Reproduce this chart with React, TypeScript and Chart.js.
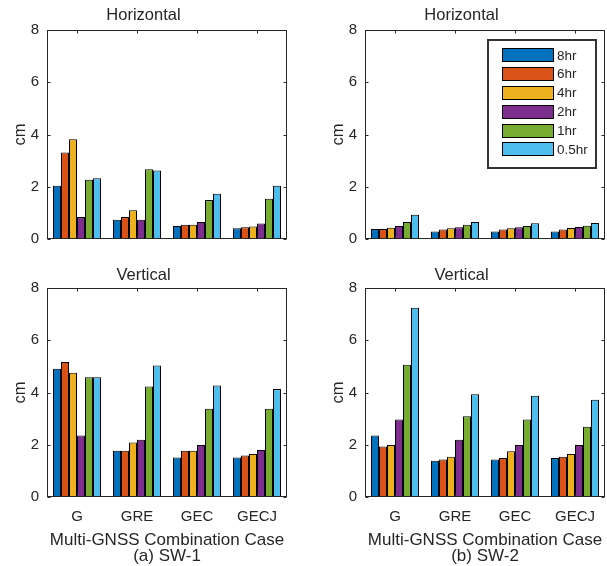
import React, { useEffect, useRef } from "react";
import { Chart, registerables } from "chart.js";

Chart.register(...registerables);

const categories = ["G", "GRE", "GEC", "GECJ"];
const seriesLabels = ["8hr", "6hr", "4hr", "2hr", "1hr", "0.5hr"];
const seriesColors = ["#0072BD", "#D95319", "#EDB120", "#7E2F8E", "#77AC30", "#4DBEEE"];
const yTicks = [0, 2, 4, 6, 8];

// rows = series (8hr, 6hr, 4hr, 2hr, 1hr, 0.5hr), columns = categories
const sw1Horizontal = [
  [2.04, 0.74, 0.5, 0.41],
  [3.31, 0.84, 0.55, 0.45],
  [3.82, 1.1, 0.55, 0.48],
  [0.84, 0.74, 0.65, 0.59],
  [2.27, 2.67, 1.49, 1.54],
  [2.33, 2.62, 1.73, 2.04],
];
const sw2Horizontal = [
  [0.38, 0.29, 0.29, 0.29],
  [0.38, 0.36, 0.36, 0.36],
  [0.43, 0.41, 0.41, 0.42],
  [0.5, 0.45, 0.45, 0.46],
  [0.65, 0.55, 0.5, 0.51],
  [0.93, 0.65, 0.6, 0.61],
];
const sw1Vertical = [
  [4.91, 1.77, 1.51, 1.51],
  [5.17, 1.77, 1.77, 1.59],
  [4.76, 2.09, 1.77, 1.65],
  [2.35, 2.19, 1.99, 1.8],
  [4.58, 4.23, 3.38, 3.38],
  [4.58, 5.03, 4.27, 4.13],
];
const sw2Vertical = [
  [2.35, 1.39, 1.44, 1.49],
  [1.93, 1.44, 1.49, 1.54],
  [1.99, 1.54, 1.75, 1.65],
  [2.97, 2.19, 1.99, 1.99],
  [5.06, 3.09, 2.97, 2.69],
  [7.24, 3.93, 3.88, 3.72],
];

const TEXT = "#262626";
const FONT = "'Liberation Sans', Arial, Helvetica, sans-serif";

const framePlugin = {
  id: "frame",
  afterDraw(chart: any) {
    const { ctx, chartArea: a, scales } = chart;
    ctx.save();
    ctx.strokeStyle = TEXT;
    ctx.lineWidth = 1;
    const l = Math.round(a.left) + 0.5;
    const r = Math.round(a.right) - 0.5;
    const t = Math.round(a.top) + 0.5;
    const b = Math.round(a.bottom) - 0.5;
    ctx.strokeRect(l, t, r - l, b - t);
    const L = 3;
    ctx.beginPath();
    scales.y.ticks.forEach((_: any, i: number) => {
      const y = Math.round(scales.y.getPixelForTick(i)) + 0.5;
      ctx.moveTo(l, y);
      ctx.lineTo(l + L, y);
      ctx.moveTo(r, y);
      ctx.lineTo(r - L, y);
    });
    scales.x.ticks.forEach((_: any, i: number) => {
      const x = Math.round(scales.x.getPixelForTick(i)) + 0.5;
      ctx.moveTo(x, b);
      ctx.lineTo(x, b - L);
      ctx.moveTo(x, t);
      ctx.lineTo(x, t + L);
    });
    ctx.stroke();
    ctx.restore();
  },
};

const boxLegendPlugin = {
  id: "boxLegend",
  afterDraw(chart: any, _args: any, opts: any) {
    if (!opts || !opts.show) return;
    const { ctx, chartArea: a } = chart;
    const x0 = Math.round(a.right - 117);
    const y0 = Math.round(a.top + 10);
    const w = 108;
    const h = 128;
    ctx.save();
    ctx.fillStyle = "#ffffff";
    ctx.fillRect(x0, y0, w, h);
    ctx.strokeStyle = "#333333";
    ctx.lineWidth = 2;
    ctx.strokeRect(x0, y0, w, h);
    ctx.font = `13.5px ${FONT}`;
    ctx.textBaseline = "middle";
    ctx.textAlign = "left";
    chart.data.datasets.forEach((ds: any, i: number) => {
      const cy = y0 + 15.3 + i * 18.8;
      ctx.fillStyle = ds.backgroundColor;
      ctx.fillRect(x0 + 14, Math.round(cy - 7), 52, 14);
      ctx.strokeStyle = "#000000";
      ctx.lineWidth = 1;
      ctx.strokeRect(x0 + 14.5, Math.round(cy - 7) + 0.5, 51, 13);
      ctx.fillStyle = TEXT;
      ctx.fillText(ds.label, x0 + 69, cy + 0.5);
    });
    ctx.restore();
  },
};

type PanelProps = {
  left: number;
  top: number;
  width: number;
  height: number;
  title: string;
  series: number[][];
  showX: boolean;
  caption?: string;
  padLeft: number;
  padRight: number;
  titleBottom: number;
  xHeight: number;
  legend?: boolean;
};

function Panel(p: PanelProps) {
  const ref = useRef<HTMLCanvasElement | null>(null);
  useEffect(() => {
    if (!ref.current) return;
    const chart = new Chart(ref.current, {
      type: "bar",
      data: {
        labels: categories,
        datasets: p.series.map((vals, i) => ({
          label: seriesLabels[i],
          data: vals,
          backgroundColor: seriesColors[i],
          borderColor: "#000000",
          borderWidth: 1,
          borderSkipped: false,
          barPercentage: 1,
          categoryPercentage: 0.8,
        })),
      },
      options: {
        responsive: false,
        animation: false,
        events: [],
        layout: { padding: { left: p.padLeft, right: p.padRight, top: 0, bottom: 0 } },
        plugins: {
          legend: { display: false },
          tooltip: { enabled: false },
          title: {
            display: true,
            text: p.title,
            color: TEXT,
            font: { family: FONT, size: 16.5, weight: "normal", lineHeight: 1.2 },
            padding: { top: 6, bottom: p.titleBottom },
          },
          boxLegend: { show: !!p.legend },
        } as any,
        scales: {
          x: {
            grid: { display: false, drawTicks: false },
            border: { display: false },
            ticks: {
              display: p.showX,
              color: TEXT,
              font: { family: FONT, size: 15, lineHeight: 1.2 },
              padding: 11,
              maxRotation: 0,
              autoSkip: false,
            },
            title: {
              display: p.showX,
              text: ["Multi-GNSS Combination Case", p.caption || ""],
              color: TEXT,
              font: { family: FONT, size: 17, lineHeight: "16px" },
              padding: { top: 0, bottom: 2 },
            },
            afterFit: (s: any) => {
              s.height = p.xHeight;
            },
          },
          y: {
            min: 0,
            max: 8,
            afterBuildTicks: (s: any) => {
              s.ticks = yTicks.map((v) => ({ value: v }));
            },
            grid: { display: false, drawTicks: false },
            border: { display: false },
            ticks: {
              color: TEXT,
              font: { family: FONT, size: 15, lineHeight: 1.2 },
              padding: 8,
            },
            title: {
              display: true,
              text: "cm",
              color: TEXT,
              font: { family: FONT, size: 16.5, lineHeight: 1.2 },
              padding: { top: 11, bottom: 0 },
            },
            afterFit: (s: any) => {
              s.width = 47;
            },
          },
        },
      },
      plugins: [framePlugin, boxLegendPlugin],
    } as any);
    return () => chart.destroy();
  }, []);
  return (
    <canvas
      ref={ref}
      width={p.width}
      height={p.height}
      style={{ position: "absolute", left: p.left, top: p.top, width: p.width, height: p.height }}
    />
  );
}

export default function App() {
  return (
    <div
      style={{
        position: "absolute",
        left: 0,
        top: 0,
        width: 607,
        height: 566,
        background: "#ffffff",
        overflow: "hidden",
      }}
    >
      <Panel left={0} top={0} width={304} height={260} title="Horizontal" series={sw1Horizontal}
        showX={false} padLeft={0} padRight={17} titleBottom={4.2} xHeight={21} />
      <Panel left={304} top={0} width={303} height={260} title="Horizontal" series={sw2Horizontal}
        showX={false} padLeft={14} padRight={2} titleBottom={4.2} xHeight={21} legend />
      <Panel left={0} top={260} width={304} height={306} title="Vertical" series={sw1Vertical}
        showX caption="(a) SW-1" padLeft={0} padRight={17} titleBottom={2.2} xHeight={69} />
      <Panel left={304} top={260} width={303} height={306} title="Vertical" series={sw2Vertical}
        showX caption="(b) SW-2" padLeft={14} padRight={2} titleBottom={2.2} xHeight={69} />
    </div>
  );
}
